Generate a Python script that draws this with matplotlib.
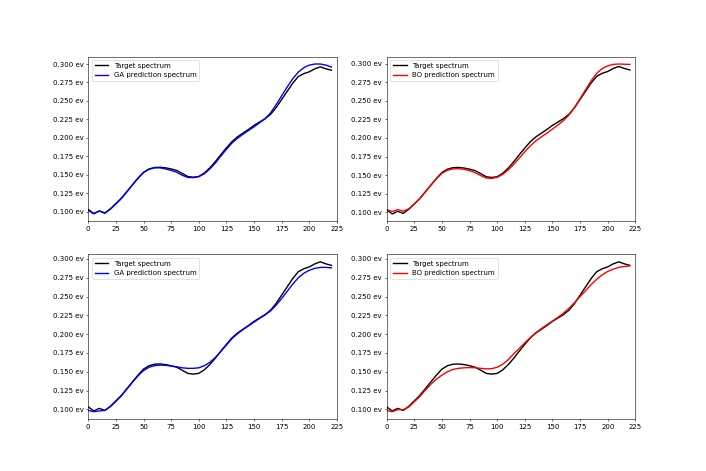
import matplotlib
matplotlib.use("Agg")
import matplotlib.pyplot as plt
from matplotlib.ticker import FormatStrFormatter

x = list(range(0, 221, 5))

target = [0.1032, 0.0978, 0.1012, 0.0985, 0.1040, 0.1112, 0.1185, 0.1275, 0.1365, 0.1455,
          0.1535, 0.1580, 0.1600, 0.1603, 0.1595, 0.1580, 0.1560, 0.1520, 0.1478, 0.1468,
          0.1478, 0.1525, 0.1595, 0.1680, 0.1775, 0.1865, 0.1950, 0.2015, 0.2065, 0.2115,
          0.2170, 0.2215, 0.2260, 0.2320, 0.2410, 0.2520, 0.2630, 0.2740, 0.2830, 0.2870,
          0.2895, 0.2935, 0.2962, 0.2935, 0.2915]

ga_top = [0.1020, 0.0972, 0.1010, 0.0980, 0.1035, 0.1105, 0.1180, 0.1270, 0.1365, 0.1455,
          0.1530, 0.1575, 0.1595, 0.1595, 0.1580, 0.1560, 0.1535, 0.1495, 0.1465, 0.1462,
          0.1475, 0.1515, 0.1580, 0.1660, 0.1755, 0.1845, 0.1930, 0.1995, 0.2050, 0.2100,
          0.2150, 0.2205, 0.2260, 0.2340, 0.2450, 0.2570, 0.2690, 0.2800, 0.2890, 0.2950,
          0.2985, 0.3000, 0.3000, 0.2985, 0.2960]

bo_top = [0.1035, 0.1010, 0.1035, 0.1015, 0.1045, 0.1112, 0.1185, 0.1275, 0.1365, 0.1450,
          0.1525, 0.1565, 0.1583, 0.1587, 0.1578, 0.1560, 0.1532, 0.1495, 0.1460, 0.1455,
          0.1470, 0.1510, 0.1570, 0.1645, 0.1730, 0.1815, 0.1895, 0.1960, 0.2015, 0.2065,
          0.2120, 0.2175, 0.2235, 0.2310, 0.2410, 0.2530, 0.2650, 0.2770, 0.2870, 0.2935,
          0.2970, 0.2990, 0.2995, 0.2992, 0.2990]

ga_bottom = [0.0985, 0.0968, 0.0978, 0.0985, 0.1035, 0.1105, 0.1180, 0.1270, 0.1360, 0.1445,
             0.1515, 0.1560, 0.1580, 0.1588, 0.1585, 0.1575, 0.1565, 0.1552, 0.1545, 0.1545,
             0.1552, 0.1580, 0.1625, 0.1690, 0.1770, 0.1855, 0.1940, 0.2005, 0.2060, 0.2110,
             0.2160, 0.2210, 0.2255, 0.2310, 0.2385, 0.2475, 0.2570, 0.2665, 0.2750, 0.2810,
             0.2850, 0.2875, 0.2888, 0.2888, 0.2882]

bo_bottom = [0.0985, 0.0968, 0.0995, 0.0995, 0.1030, 0.1100, 0.1170, 0.1255, 0.1335, 0.1400,
             0.1455, 0.1500, 0.1530, 0.1545, 0.1552, 0.1555, 0.1553, 0.1545, 0.1538, 0.1540,
             0.1560, 0.1600, 0.1660, 0.1740, 0.1810, 0.1885, 0.1955, 0.2020, 0.2075, 0.2125,
             0.2175, 0.2225, 0.2280, 0.2345, 0.2420, 0.2500, 0.2580, 0.2660, 0.2730, 0.2790,
             0.2835, 0.2865, 0.2888, 0.2900, 0.2908]

panels = [
    (ga_top, "b", "GA prediction spectrum"),
    (bo_top, "r", "BO prediction spectrum"),
    (ga_bottom, "b", "GA prediction spectrum"),
    (bo_bottom, "r", "BO prediction spectrum"),
]

fig, axes = plt.subplots(2, 2, figsize=(14.12, 9.42), dpi=50)
for ax, (pred, color, label) in zip(axes.flat, panels):
    ax.plot(x, target, color="k", lw=2, label="Target spectrum")
    ax.plot(x, pred, color=color, lw=2, label=label)
    ax.set_xlim(0, 225)
    ax.set_xticks(range(0, 226, 25))
    ax.set_yticks([0.100, 0.125, 0.150, 0.175, 0.200, 0.225, 0.250, 0.275, 0.300])
    ax.yaxis.set_major_formatter(FormatStrFormatter("%.3f ev"))
    ax.legend(loc="upper left")

fig.savefig("out.png", dpi=50)
